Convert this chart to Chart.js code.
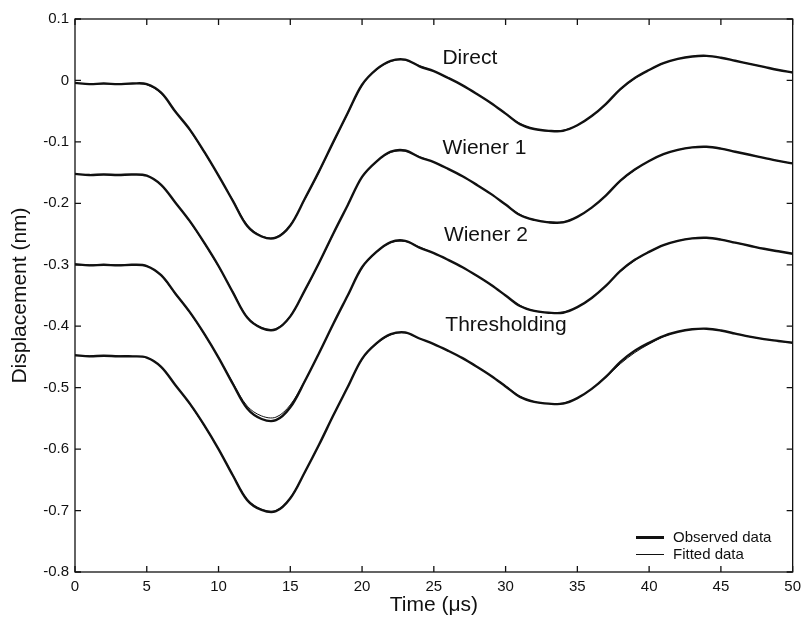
<!DOCTYPE html>
<html>
<head>
<meta charset="utf-8">
<script src="https://cdn.jsdelivr.net/npm/chart.js"></script>
<style>
  html, body { margin: 0; padding: 0; background: #fff; }
  #wrap { width: 807px; height: 620px; }
</style>
</head>
<body>
<div id="wrap"><canvas id="chart" width="807" height="620"></canvas></div>
<script>
// time axis (µs)
const times = [0,1,2,3,4,5,6,7,8,9,10,11,12,13,14,15,16,17,18,19,20,21,22,23,24,25,26,27,28,29,30,31,32,33,34,35,36,37,38,39,40,41,42,43,44,45,46,47,48,49,50];

// observed data (nm)
const directObs = [-0.004,-0.006,-0.005,-0.006,-0.005,-0.006,-0.020,-0.051,-0.080,-0.116,-0.155,-0.196,-0.237,-0.254,-0.256,-0.236,-0.193,-0.148,-0.100,-0.053,-0.007,0.018,0.032,0.034,0.023,0.015,0.004,-0.008,-0.022,-0.037,-0.054,-0.071,-0.079,-0.082,-0.082,-0.073,-0.058,-0.038,-0.014,0.004,0.017,0.028,0.035,0.039,0.040,0.037,0.032,0.027,0.022,0.017,0.013];
const wiener1Obs = [-0.152,-0.154,-0.153,-0.154,-0.153,-0.155,-0.170,-0.199,-0.229,-0.264,-0.302,-0.345,-0.386,-0.403,-0.405,-0.384,-0.342,-0.297,-0.249,-0.203,-0.157,-0.132,-0.116,-0.114,-0.125,-0.133,-0.144,-0.156,-0.170,-0.185,-0.202,-0.219,-0.227,-0.231,-0.231,-0.222,-0.207,-0.187,-0.163,-0.145,-0.131,-0.120,-0.113,-0.109,-0.108,-0.111,-0.116,-0.121,-0.126,-0.131,-0.135];
const wiener2Obs = [-0.299,-0.301,-0.300,-0.301,-0.300,-0.302,-0.317,-0.347,-0.377,-0.412,-0.451,-0.494,-0.534,-0.551,-0.553,-0.532,-0.490,-0.444,-0.396,-0.350,-0.304,-0.279,-0.263,-0.261,-0.272,-0.281,-0.292,-0.304,-0.318,-0.333,-0.350,-0.367,-0.375,-0.378,-0.378,-0.369,-0.354,-0.334,-0.310,-0.292,-0.279,-0.268,-0.261,-0.257,-0.256,-0.259,-0.264,-0.269,-0.274,-0.278,-0.282];
const threshObs = [-0.447,-0.449,-0.448,-0.449,-0.449,-0.451,-0.466,-0.496,-0.526,-0.561,-0.600,-0.643,-0.683,-0.699,-0.701,-0.680,-0.638,-0.593,-0.545,-0.499,-0.453,-0.428,-0.413,-0.410,-0.420,-0.429,-0.440,-0.452,-0.466,-0.481,-0.498,-0.515,-0.523,-0.526,-0.526,-0.517,-0.502,-0.482,-0.458,-0.440,-0.427,-0.416,-0.409,-0.405,-0.404,-0.407,-0.412,-0.417,-0.421,-0.424,-0.427];

// fitted data (nm)
const directFit = [-0.005,-0.005,-0.005,-0.005,-0.005,-0.007,-0.021,-0.050,-0.081,-0.117,-0.155,-0.195,-0.235,-0.253,-0.255,-0.235,-0.194,-0.149,-0.101,-0.054,-0.008,0.017,0.031,0.033,0.024,0.015,0.004,-0.008,-0.022,-0.037,-0.054,-0.070,-0.079,-0.082,-0.081,-0.073,-0.058,-0.038,-0.015,0.003,0.017,0.028,0.035,0.039,0.040,0.037,0.032,0.027,0.022,0.017,0.013];
const wiener1Fit = [-0.153,-0.153,-0.153,-0.153,-0.153,-0.155,-0.170,-0.199,-0.230,-0.265,-0.303,-0.344,-0.385,-0.402,-0.404,-0.383,-0.343,-0.298,-0.250,-0.203,-0.157,-0.132,-0.117,-0.115,-0.124,-0.133,-0.144,-0.156,-0.170,-0.185,-0.202,-0.218,-0.227,-0.230,-0.230,-0.222,-0.207,-0.187,-0.164,-0.146,-0.131,-0.120,-0.113,-0.109,-0.108,-0.111,-0.116,-0.121,-0.126,-0.131,-0.135];
const wiener2Fit = [-0.300,-0.300,-0.300,-0.300,-0.300,-0.302,-0.318,-0.348,-0.378,-0.413,-0.451,-0.492,-0.530,-0.546,-0.548,-0.528,-0.489,-0.444,-0.396,-0.350,-0.305,-0.280,-0.264,-0.262,-0.271,-0.281,-0.292,-0.304,-0.318,-0.333,-0.350,-0.366,-0.375,-0.378,-0.377,-0.369,-0.354,-0.334,-0.311,-0.293,-0.279,-0.268,-0.261,-0.257,-0.256,-0.259,-0.264,-0.269,-0.274,-0.278,-0.282];
const threshFit = [-0.448,-0.448,-0.448,-0.448,-0.449,-0.451,-0.466,-0.496,-0.527,-0.562,-0.600,-0.642,-0.682,-0.698,-0.700,-0.679,-0.638,-0.593,-0.545,-0.499,-0.454,-0.429,-0.414,-0.411,-0.420,-0.429,-0.440,-0.452,-0.466,-0.481,-0.497,-0.514,-0.523,-0.526,-0.525,-0.517,-0.502,-0.483,-0.461,-0.443,-0.429,-0.417,-0.409,-0.405,-0.404,-0.407,-0.412,-0.417,-0.421,-0.424,-0.427];

// curve labels and where they sit (time, value)
const curveLabels = ['Direct', 'Wiener 1', 'Wiener 2', 'Thresholding'];
const labelAt = [[25.6, 0.037], [25.6, -0.110], [25.7, -0.252], [25.8, -0.399]];

const legendLabels = ['Observed data', 'Fitted data'];

const xTicks = [0, 5, 10, 15, 20, 25, 30, 35, 40, 45, 50];
const yTicks = [0.1, 0, -0.1, -0.2, -0.3, -0.4, -0.5, -0.6, -0.7, -0.8];

const FONT = '"Liberation Sans", Arial, Helvetica, sans-serif';
const INK = '#111';

function pts(ys) {
  return ys.map((y, i) => ({ x: times[i], y: y }));
}

function series(label, ys, thick) {
  return {
    label: label,
    data: pts(ys),
    borderColor: INK,
    borderWidth: thick ? 2.4 : 1,
    pointRadius: 0,
    fill: false,
    tension: 0.35
  };
}

// frame with inward ticks on all four sides
const framePlugin = {
  id: 'frame',
  afterDraw(chart) {
    const { ctx, chartArea: a, scales } = chart;
    ctx.save();
    ctx.strokeStyle = INK;
    ctx.lineWidth = 1.3;
    ctx.strokeRect(a.left, a.top, a.right - a.left, a.bottom - a.top);
    const len = 6;
    ctx.beginPath();
    xTicks.forEach(v => {
      const px = scales.x.getPixelForValue(v);
      ctx.moveTo(px, a.bottom); ctx.lineTo(px, a.bottom - len);
      ctx.moveTo(px, a.top); ctx.lineTo(px, a.top + len);
    });
    yTicks.forEach(v => {
      const py = scales.y.getPixelForValue(v);
      ctx.moveTo(a.left, py); ctx.lineTo(a.left + len, py);
      ctx.moveTo(a.right, py); ctx.lineTo(a.right - len, py);
    });
    ctx.stroke();
    ctx.restore();
  }
};

// curve names and the small legend in the lower right corner
const notesPlugin = {
  id: 'notes',
  afterDraw(chart) {
    const { ctx, chartArea: a, scales } = chart;
    ctx.save();
    ctx.fillStyle = INK;
    ctx.font = '21px ' + FONT;
    ctx.textBaseline = 'middle';
    ctx.textAlign = 'left';
    curveLabels.forEach((t, i) => {
      ctx.fillText(t, scales.x.getPixelForValue(labelAt[i][0]), scales.y.getPixelForValue(labelAt[i][1]));
    });

    const lx = Math.round(a.right - 157), ly = Math.round(a.bottom - 35);
    ctx.font = '15px ' + FONT;
    ctx.strokeStyle = INK;
    legendLabels.forEach((t, i) => {
      const y = ly + i * 17 + 0.5;
      ctx.lineWidth = i === 0 ? 3 : 1;
      ctx.beginPath();
      ctx.moveTo(lx, y); ctx.lineTo(lx + 28, y);
      ctx.stroke();
      ctx.fillText(t, lx + 37, y);
    });
    ctx.restore();
  }
};

new Chart(document.getElementById('chart'), {
  type: 'line',
  data: {
    datasets: [
      series('Direct observed', directObs, true),
      series('Direct fitted', directFit, false),
      series('Wiener 1 observed', wiener1Obs, true),
      series('Wiener 1 fitted', wiener1Fit, false),
      series('Wiener 2 observed', wiener2Obs, true),
      series('Wiener 2 fitted', wiener2Fit, false),
      series('Thresholding observed', threshObs, true),
      series('Thresholding fitted', threshFit, false)
    ]
  },
  options: {
    responsive: false,
    animation: false,
    layout: { padding: { top: 19, right: 12, left: 0, bottom: 0 } },
    plugins: { legend: { display: false }, tooltip: { enabled: false } },
    scales: {
      x: {
        type: 'linear',
        min: 0,
        max: 50,
        afterBuildTicks: s => { s.ticks = xTicks.map(v => ({ value: v })); },
        afterFit: s => { s.height = 48; },
        grid: { display: false, drawTicks: false },
        border: { display: false },
        ticks: { color: INK, font: { family: FONT, size: 15 }, padding: 6, maxRotation: 0 },
        title: { display: true, text: 'Time (μs)', color: INK, font: { family: FONT, size: 21 }, padding: { top: 0, bottom: 2 } }
      },
      y: {
        min: -0.8,
        max: 0.1,
        afterBuildTicks: s => { s.ticks = yTicks.map(v => ({ value: v })); },
        afterFit: s => { s.width = 75; },
        grid: { display: false, drawTicks: false },
        border: { display: false },
        ticks: {
          color: INK,
          font: { family: FONT, size: 15 },
          padding: 6,
          callback: v => (Math.abs(v) < 1e-9 ? '0' : (Math.round(v * 10) / 10).toFixed(1))
        },
        title: { display: true, text: 'Displacement (nm)', color: INK, font: { family: FONT, size: 21 }, padding: { top: 8, bottom: 0 } }
      }
    }
  },
  plugins: [framePlugin, notesPlugin]
});
</script>
</body>
</html>
